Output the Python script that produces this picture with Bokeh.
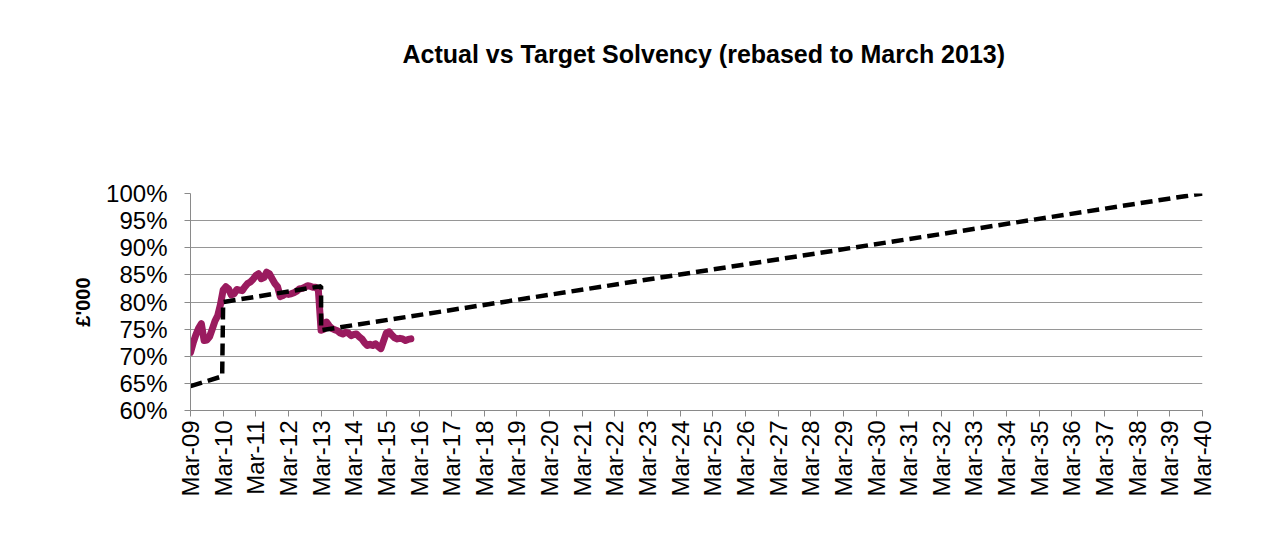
from bokeh.plotting import figure
from bokeh.models import FixedTicker, Range1d, Title
from bokeh.embed import file_html
from bokeh.resources import INLINE
import math

# ---- data ----
tick_labels = ["Mar-%02d" % (y % 100) for y in range(2009, 2041)]

# Actual solvency, monthly from Mar-09 (percent)
actual_values = [
    70.7, 72.5, 74.0, 75.2, 76.0, 72.9, 73.0, 73.6, 75.0, 76.5, 77.5, 79.5,
    82.2, 82.8, 82.4, 81.3, 81.5, 82.3, 82.2, 82.1, 82.8, 83.4, 83.7, 84.2,
    84.9, 85.2, 84.3, 84.5, 85.5, 85.2, 84.3, 83.4, 82.8, 81.0, 81.2, 81.5,
    81.4, 81.5, 81.7, 82.0, 82.4, 82.5, 82.7, 83.0, 82.9, 82.7, 82.7, 82.2,
    74.8, 75.0, 76.3, 75.6, 75.1, 74.9, 74.7, 74.3, 74.1, 74.4, 74.3, 73.8,
    74.0, 74.1, 73.6, 73.2, 72.5, 72.0, 72.2, 72.0, 72.3, 71.8, 71.4, 72.9,
    74.3, 74.5, 73.9, 73.4, 73.2, 73.3, 73.2, 72.9, 73.1, 73.2,
]
actual_months = list(range(len(actual_values)))

# Target solvency path (years since Mar-09, percent)
target_years = [0.0, 0.97, 1.0, 4.0, 4.0, 31.0]
target_values = [64.5, 66.3, 80.0, 82.9, 74.8, 100.0]

y_ticks = [60, 65, 70, 75, 80, 85, 90, 95, 100]

title_text = "Actual vs Target Solvency (rebased to March 2013)"

FONT = "Liberation Sans"

p = figure(width=1255, height=528, output_backend="svg", toolbar_location=None,
           x_range=Range1d(0, 31), y_range=Range1d(60, 100),
           min_border_left=190, min_border_right=53,
           min_border_top=193, min_border_bottom=118)

p.title.text = title_text
p.title.text_font = FONT
p.title.text_font_size = "25px"
p.title.text_font_style = "bold"
p.title.align = "left"
p.title.offset = 212
p.title.vertical_align = "top"
p.title.standoff = 74
p.title.text_color = "#000000"

# blank spacer between the title and the plot frame
spacer = Title(text=" ", text_font_size="10px", standoff=74)
p.add_layout(spacer, "above")

p.outline_line_color = None
p.background_fill_color = "white"
p.border_fill_color = "white"

# grids
p.xgrid.grid_line_color = None
p.ygrid.grid_line_color = "#969696"
p.ygrid.grid_line_width = 1.2
p.ygrid.ticker = FixedTicker(ticks=y_ticks)

# y axis
p.yaxis.ticker = FixedTicker(ticks=y_ticks)
p.yaxis.major_label_overrides = {v: "%d%%" % v for v in y_ticks}
p.yaxis.major_label_text_font = FONT
p.yaxis.major_label_text_font_size = "24px"
p.yaxis.major_label_text_color = "#000000"
p.yaxis.axis_line_color = "#8a8a8a"
p.yaxis.major_tick_line_color = "#8a8a8a"
p.yaxis.major_tick_out = 6
p.yaxis.major_tick_in = 0
p.yaxis.minor_tick_line_color = None
p.yaxis.major_label_standoff = 17
p.yaxis.axis_label = "£'000"
p.yaxis.axis_label_text_font = FONT
p.yaxis.axis_label_text_font_size = "20px"
p.yaxis.axis_label_text_font_style = "bold"
p.yaxis.axis_label_text_color = "#000000"
p.yaxis.axis_label_standoff = 9

# x axis
x_ticks = list(range(len(tick_labels)))
p.xaxis.ticker = FixedTicker(ticks=x_ticks)
p.xaxis.major_label_overrides = {i: lab for i, lab in zip(x_ticks, tick_labels)}
p.xaxis.major_label_orientation = math.pi / 2
p.xaxis.major_label_text_font = FONT
p.xaxis.major_label_text_font_size = "24px"
p.xaxis.major_label_text_color = "#000000"
p.xaxis.axis_line_color = "#8a8a8a"
p.xaxis.major_tick_line_color = "#8a8a8a"
p.xaxis.major_tick_out = 6
p.xaxis.major_tick_in = 0
p.xaxis.minor_tick_line_color = None
p.xaxis.major_label_standoff = 4

# series
p.line([m / 12.0 for m in actual_months], actual_values,
       line_color="#9a1b5f", line_width=7, line_join="round", line_cap="round")
p.line(target_years, target_values, line_color="#000000", line_width=4.5,
       line_dash="12 6")

open("out.html", "w").write(file_html(p, INLINE))
